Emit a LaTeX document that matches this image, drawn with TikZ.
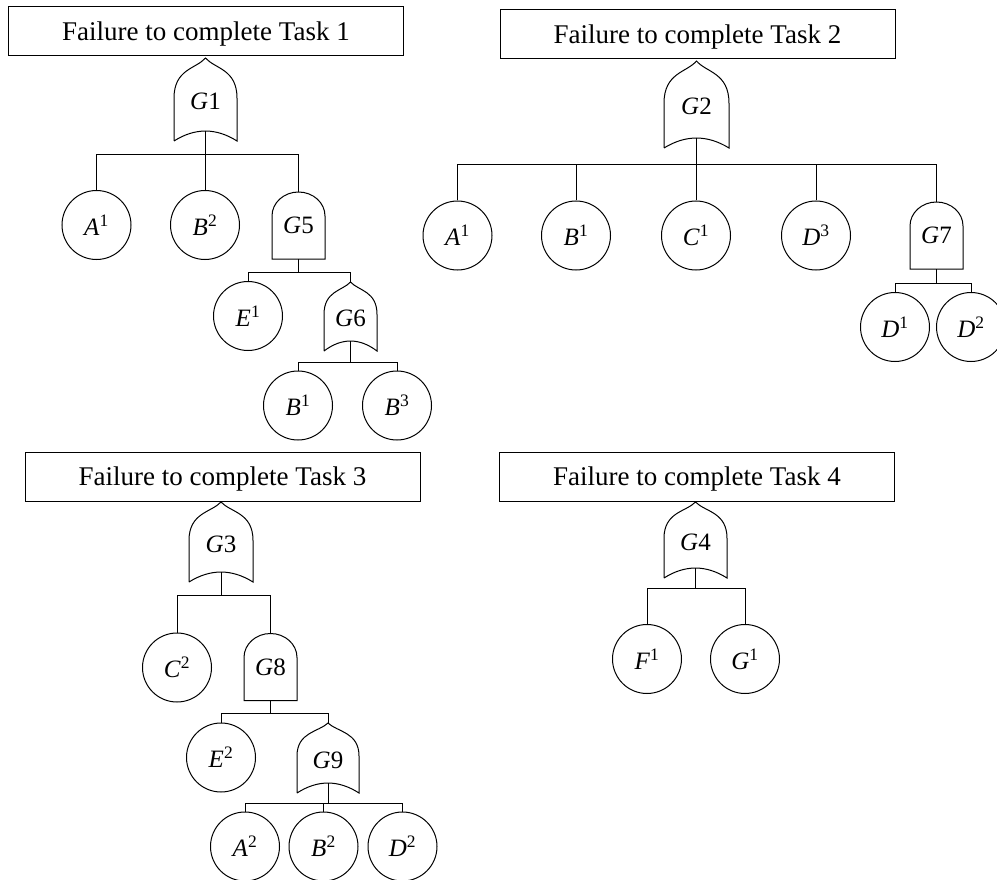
\documentclass[tikz,border=0pt]{standalone}
\usepackage{fontspec}
\setmainfont{Liberation Serif}
\usetikzlibrary{calc}

\tikzset{
  top/.style={draw, rectangle, minimum width=395pt, minimum height=49pt, inner sep=0pt, text depth=0pt, font=\fontsize{27}{32}\selectfont},
  basic/.style={draw, circle, minimum size=69pt, inner sep=0pt, font=\fontsize{25}{30}\selectfont},
  orgate/.style={rectangle, inner sep=0pt, outer sep=0pt, text height=30pt, text depth=0pt, font=\fontsize{25}{30}\selectfont},
  andgate/.style={rectangle, inner sep=0pt, outer sep=0pt, minimum width=53pt, minimum height=67pt, font=\fontsize{25}{30}\selectfont}
}
\newcommand{\bev}[2]{\textit{#1}\textsuperscript{#2}}
\newcommand{\gl}[1]{\textit{G}#1}
\newcommand{\orshape}[1]{%
  \draw ([yshift=-10pt]#1.south west) -- ($(#1.south west)!0.45!(#1.north west)$)
    .. controls ($(#1.south west)!0.85!(#1.north west)$) and ($(#1.north)!0.3!(#1.west)$) .. (#1.north)
    .. controls ($(#1.north)!0.3!(#1.east)$) and ($(#1.south east)!0.85!(#1.north east)$) .. ($(#1.south east)!0.45!(#1.north east)$)
    -- ([yshift=-10pt]#1.south east)
    .. controls ($(#1.south east)!0.333!(#1.south west)+(0,3.3pt)$) and ($(#1.south west)!0.333!(#1.south east)+(0,3.3pt)$) .. ([yshift=-10pt]#1.south west);}
\newcommand{\andshape}[1]{%
  \draw (#1.south west) -- ([yshift=-24pt]#1.north west)
    .. controls ([yshift=-10.7pt]#1.north west) and ([xshift=-14.6pt]#1.north) .. (#1.north)
    .. controls ([xshift=14.6pt]#1.north) and ([yshift=-10.7pt]#1.north east) .. ([yshift=-24pt]#1.north east)
    -- (#1.south east) -- cycle;}

\begin{document}
\begin{tikzpicture}[x=1pt, y=-1pt, line width=1pt]
\useasboundingbox (0,0) rectangle (997,880);

\node[top] (t1) at (206,31.5)   {Failure to complete Task 1};
\node[top] (t2) at (697.5,34)   {Failure to complete Task 2};
\node[top] (t3) at (222.5,476.5) {Failure to complete Task 3};
\node[top] (t4) at (697,476.5)  {Failure to complete Task 4};

\node[orgate, minimum width=63pt, minimum height=73pt] (g1) at (205.5,94.5) {\gl{1}};
\node[orgate, minimum width=65pt, minimum height=77pt] (g2) at (696.5,99.5) {\gl{2}};
\node[orgate, minimum width=64pt, minimum height=70pt] (g3) at (221,537)    {\gl{3}};
\node[orgate, minimum width=63pt, minimum height=66pt] (g4) at (695.5,535)  {\gl{4}};
\node[andgate] (g5) at (298.5,225.5) {\gl{5}};
\node[orgate, minimum width=53pt, minimum height=59pt] (g6) at (350.5,311.5) {\gl{6}};
\node[andgate] (g7) at (936.5,235.5) {\gl{7}};
\node[andgate] (g8) at (270.5,667)   {\gl{8}};
\node[orgate, minimum width=62pt, minimum height=60pt] (g9) at (328,753)    {\gl{9}};
\foreach \g in {g1,g2,g3,g4,g6,g9} {\orshape{\g}}
\foreach \g in {g5,g7,g8} {\andshape{\g}}

\node[basic] (a_1) at (96.5,225)  {\bev{A}{1}};
\node[basic] (b_2) at (205,225)   {\bev{B}{2}};
\node[basic] (e_1) at (248,316)   {\bev{E}{1}};
\node[basic] (b_1) at (298,405.5) {\bev{B}{1}};
\node[basic] (b_3) at (397,405.5) {\bev{B}{3}};

\node[basic] (a_1') at (457.5,235.5) {\bev{A}{1}};
\node[basic] (b_1') at (576,235.5)   {\bev{B}{1}};
\node[basic] (c_1') at (696,235.5)   {\bev{C}{1}};
\node[basic] (d_3') at (816,235.5)   {\bev{D}{3}};
\node[basic] (d_1') at (895,327)     {\bev{D}{1}};
\node[basic] (d_2') at (971,327)     {\bev{D}{2}};

\node[basic] (c_2) at (177,667.5) {\bev{C}{2}};
\node[basic] (e_2) at (221,757.5) {\bev{E}{2}};
\node[basic] (a_2) at (245,846.5) {\bev{A}{2}};
\node[basic] (b_2'') at (323.5,846.5) {\bev{B}{2}};
\node[basic] (d_2) at (402.5,846.5) {\bev{D}{2}};

\node[basic] (f_1) at (647,659) {\bev{F}{1}};
\node[basic] (g_1) at (745,659) {\bev{G}{1}};

\coordinate (bar1) at (0,155);
\coordinate (bar5) at (0,272);
\coordinate (bar6) at (0,362);
\coordinate (bar2) at (0,165);
\coordinate (bar7) at (0,283);
\coordinate (bar3) at (0,595);
\coordinate (bar8) at (0,713);
\coordinate (bar9) at (0,803);
\coordinate (bar4) at (0,588);

\foreach \c in {a_1,b_2,g5}    {\draw (g1.south) -- (g1.south |- bar1) -| (\c.north);}
\foreach \c in {e_1,g6}        {\draw (g5.south) -- (g5.south |- bar5) -| (\c.north);}
\foreach \c in {b_1,b_3}       {\draw (g6.south) -- (g6.south |- bar6) -| (\c.north);}
\foreach \c in {a_1',b_1',c_1',d_3',g7} {\draw (g2.south) -- (g2.south |- bar2) -| (\c.north);}
\foreach \c in {d_1',d_2'}     {\draw (g7.south) -- (g7.south |- bar7) -| (\c.north);}
\foreach \c in {c_2,g8}        {\draw (g3.south) -- (g3.south |- bar3) -| (\c.north);}
\foreach \c in {e_2,g9}        {\draw (g8.south) -- (g8.south |- bar8) -| (\c.north);}
\foreach \c in {a_2,b_2'',d_2} {\draw (g9.south) -- (g9.south |- bar9) -| (\c.north);}
\foreach \c in {f_1,g_1}       {\draw (g4.south) -- (g4.south |- bar4) -| (\c.north);}

\end{tikzpicture}
\end{document}
